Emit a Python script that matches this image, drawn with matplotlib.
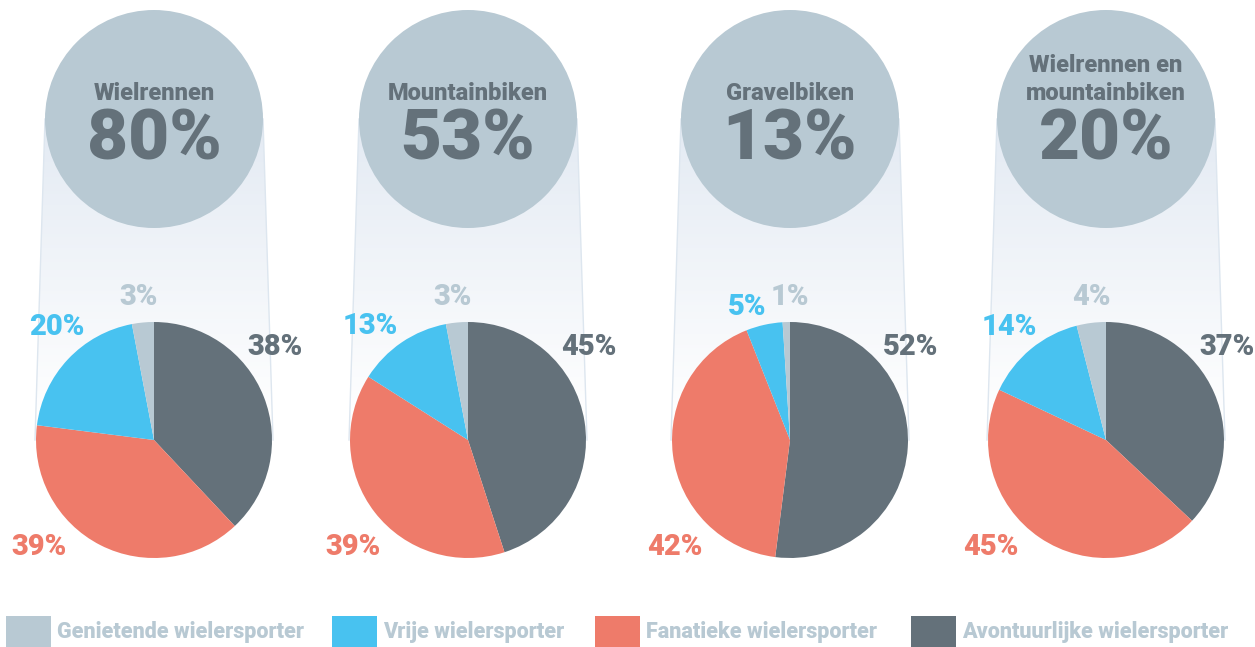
import matplotlib
matplotlib.use("Agg")
import matplotlib.pyplot as plt
import numpy as np
from matplotlib.patches import Circle, Polygon, Rectangle
from matplotlib.colors import LinearSegmentedColormap

# data
titles = ["Wielrennen", "Mountainbiken", "Gravelbiken", "Wielrennen en\nmountainbiken"]
totals = [80, 53, 13, 20]
segments = ["Avontuurlijke wielersporter", "Fanatieke wielersporter",
            "Vrije wielersporter", "Genietende wielersporter"]
avontuurlijk = [38, 45, 52, 37]
fanatiek = [39, 39, 42, 45]
vrij = [20, 13, 5, 14]
genietend = [3, 3, 1, 4]

legend_order = ["Genietende wielersporter", "Vrije wielersporter",
                "Fanatieke wielersporter", "Avontuurlijke wielersporter"]

# styling
colors = {"Avontuurlijke wielersporter": "#64717a",
          "Fanatieke wielersporter": "#ee7b6a",
          "Vrije wielersporter": "#48c2f0",
          "Genietende wielersporter": "#b8c9d3"}
bubble_color = "#b8c9d3"
text_dark = "#64717a"

W, H = 1255, 647
panel_x = [154, 468, 790, 1106]
bubble_y, bubble_r = 119, 109
pie_y, pie_r = 440, 118

# label offsets (pixels from pie centre), per panel, in segment order
label_offsets = [
    [(121, -93), (-115, 107), (-97, -113), (-15, -143)],
    [(121, -93), (-115, 107), (-98, -114), (-15, -143)],
    [(121, -93), (-115, 107), (-43, -133), (0, -143)],
    [(121, -93), (-115, 107), (-97, -113), (-15, -143)],
]
legend_x = [6, 332, 595, 911]

plt.rcParams["font.family"] = ["Roboto", "DejaVu Sans"]

fig = plt.figure(figsize=(W / 100, H / 100), dpi=100)
ax = fig.add_axes([0, 0, 1, 1])


def py(y):
    # pixel row -> data y
    return H - y


gradient = np.linspace(0, 1, 256).reshape(-1, 1)
fade = LinearSegmentedColormap.from_list("fade", ["#ffffff", "#e3eaf3"])

for i in range(4):
    cx = panel_x[i]
    vals = [avontuurlijk[i], fanatiek[i], vrij[i], genietend[i]]

    # funnel from bubble to pie
    pts = [(cx - bubble_r, py(bubble_y)), (cx + bubble_r, py(bubble_y)),
           (cx + pie_r + 1, py(pie_y)), (cx - pie_r - 1, py(pie_y))]
    poly = Polygon(pts, closed=True, facecolor="none", edgecolor="none")
    ax.add_patch(poly)
    im = ax.imshow(gradient, cmap=fade, aspect="auto", origin="lower",
                   extent=(cx - pie_r - 2, cx + pie_r + 2, py(pie_y - 20), py(bubble_y)),
                   zorder=1)
    im.set_clip_path(poly)
    ax.plot([pts[0][0], pts[3][0]], [pts[0][1], pts[3][1]], color="#dde6ef", lw=1, zorder=1.5)
    ax.plot([pts[1][0], pts[2][0]], [pts[1][1], pts[2][1]], color="#dde6ef", lw=1, zorder=1.5)

    # bubble
    ax.add_patch(Circle((cx, py(bubble_y)), bubble_r, color=bubble_color, zorder=2, lw=0))
    lines = titles[i].split("\n")
    for k, line in enumerate(reversed(lines)):
        ax.text(cx, py(94 - 28 * k), line, ha="center", va="center",
                fontsize=17, fontweight=900, color=text_dark, zorder=3)
    ax.text(cx, py(140), f"{totals[i]}%", ha="center", va="center",
            fontsize=51, fontweight=900, color=text_dark, zorder=3)

    # pie
    wedges, _ = ax.pie(vals, colors=[colors[s] for s in segments], startangle=90,
                       counterclock=False, center=(cx, py(pie_y)), radius=pie_r,
                       frame=True, wedgeprops=dict(linewidth=0))
    for w in wedges:
        w.set_zorder(4)
    for v, s, (dx, dy) in zip(vals, segments, label_offsets[i]):
        ax.text(cx + dx, py(pie_y + dy), f"{v}%", ha="center", va="center",
                fontsize=21, fontweight=900, color=colors[s], zorder=5)

# legend
for x, s in zip(legend_x, legend_order):
    ax.add_patch(Rectangle((x, py(647 + 14)), 45, 45, color=colors[s], lw=0, zorder=2))
    ax.text(x + 51, py(632), s, ha="left", va="center", fontsize=15.5,
            fontweight=900, color="#b8c9d3")

ax.set_xlim(0, W)
ax.set_ylim(0, H)
ax.set_aspect("auto")
ax.axis("off")

fig.savefig("out.png", dpi=100, facecolor="white")
